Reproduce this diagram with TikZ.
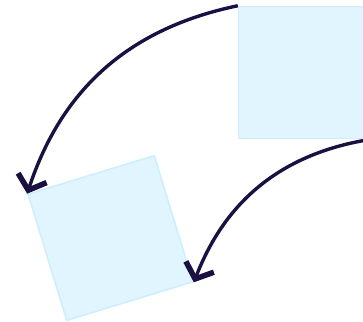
\documentclass[tikz,border=0pt]{standalone}
\usepackage{xcolor}
\usepackage{tikz}
\usetikzlibrary{arrows.meta}
\definecolor{sqfill}{HTML}{E0F5FF}
\definecolor{sqline}{HTML}{CDEEFC}
\definecolor{navy}{HTML}{1B1042}

\begin{document}
\begin{tikzpicture}[
  x=1pt, y=1pt,
  sq/.style ={draw=sqline, fill=sqfill, line width=1.5pt, minimum size=132pt, inner sep=0pt},
  arr/.style={-{Straight Barb[length=13pt, width=30pt, line width=5.5pt]}, draw=navy, line width=3.4pt}
]
\clip (0,0) rectangle (363,321);
\node[sq] (orig) at (304.5,248.5) {};
\node[sq, rotate=17] (turned) at (110.5,83) {};
\draw[arr] (orig.north west) to[bend right=30] (turned.north west);
\draw[arr] (orig.south east) to[bend right=30] (turned.south east);
\end{tikzpicture}
\end{document}
